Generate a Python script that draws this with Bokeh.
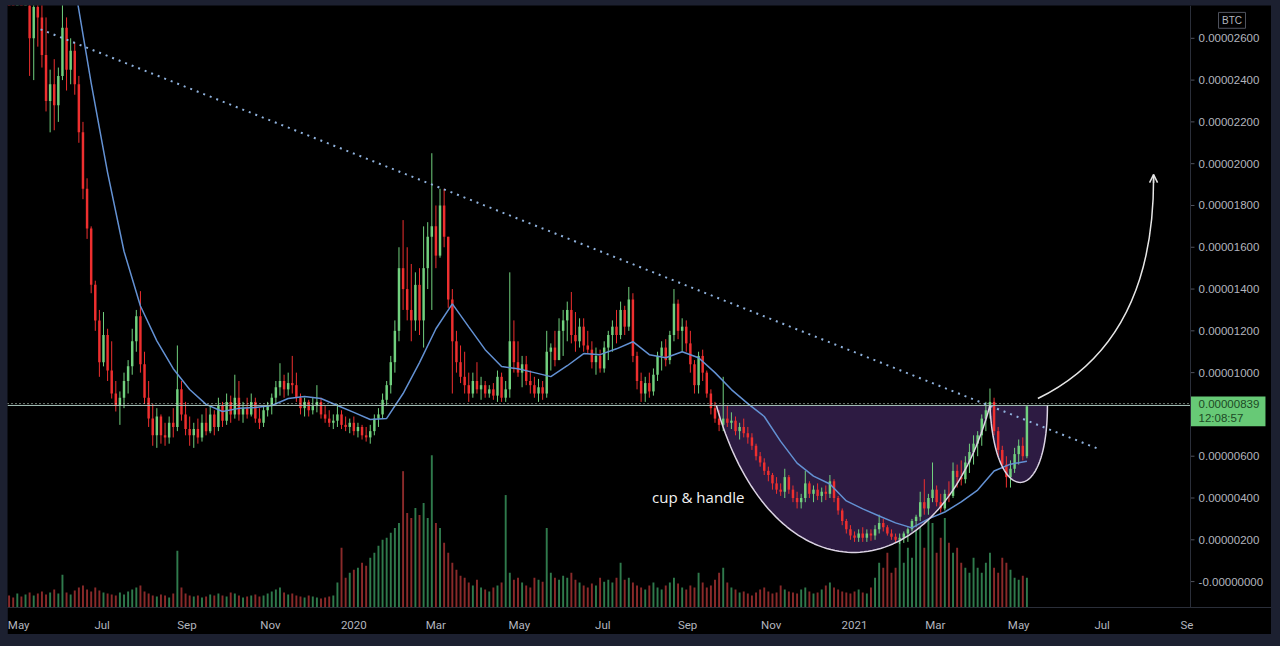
import numpy as np
import pandas as pd
from bokeh.plotting import figure
from bokeh.models import (ColumnDataSource, Range1d, FixedTicker, CustomJSTickFormatter,
                          Label, Arrow, OpenHead, Span, GlobalInlineStyleSheet)
from bokeh.embed import file_html
from bokeh.resources import INLINE

# candles every 3 days, prices in satoshi (1e-8 BTC)
start_date = "2019-04-24"
first_open = 3100
high_sats = [
    3200, 3150, 3250, 3150, 3150, 3050, 2900, 2950, 2850, 2700,
    2450, 2500, 2460, 2790, 2700, 2600, 2580, 2420, 2200, 1930,
    1700, 1440, 1300, 1290, 1210, 1150, 960, 910, 1000, 1060,
    1210, 1300, 1390, 1100, 960, 850, 830, 800, 760, 790,
    830, 1130, 960, 860, 790, 760, 780, 800, 830, 840,
    820, 880, 860, 900, 890, 990, 960, 860, 880, 900,
    880, 830, 840, 860, 900, 960, 1045, 990, 1000, 1080,
    1000, 900, 880, 870, 880, 940, 880, 840, 820, 800,
    850, 820, 790, 780, 790, 760, 750, 740, 750, 800,
    830, 900, 960, 1080, 1250, 1600, 1730, 1600, 1520, 1480,
    1500, 1700, 1720, 2050, 1800, 1880, 1880, 1650, 1400, 1200,
    1130, 1100, 1000, 1000, 1050, 980, 960, 940, 950, 1010,
    1000, 960, 1480, 1250, 1150, 1080, 1080, 1010, 980, 970,
    960, 1200, 1140, 1200, 1260, 1300, 1340, 1386, 1290, 1260,
    1260, 1200, 1150, 1120, 1110, 1150, 1200, 1250, 1300, 1340,
    1320, 1410, 1380, 1100, 1000, 980, 1000, 1020, 1100, 1150,
    1160, 1200, 1400, 1350, 1260, 1250, 1200, 1060, 1100, 1110,
    1010, 920, 860, 820, 980, 840, 810, 790, 760, 780,
    740, 710, 660, 620, 590, 550, 520, 500, 470, 540,
    510, 460, 430, 420, 530, 480, 460, 470, 450, 460,
    510, 490, 410, 350, 300, 270, 240, 250, 260, 250,
    250, 270, 320, 300, 270, 250, 230, 230, 240, 260,
    300, 320, 430, 490, 420, 570, 460, 420, 440, 480,
    570, 560, 580, 600, 660, 700, 720, 800, 860, 924,
    880, 740, 650, 600, 580, 640, 680, 690, 839,
]
low_sats = [
    2900, 2850, 2900, 2800, 2800, 2420, 2400, 2560, 2460, 2250,
    2150, 2160, 2200, 2400, 2350, 2380, 2330, 2100, 1830, 1640,
    1380, 1200, 980, 1030, 960, 876, 814, 750, 830, 900,
    990, 1100, 1000, 850, 740, 650, 640, 660, 650, 660,
    690, 720, 770, 700, 650, 640, 660, 670, 700, 710,
    700, 720, 740, 750, 760, 780, 770, 760, 780, 790,
    760, 730, 740, 790, 800, 850, 890, 880, 890, 900,
    860, 800, 790, 790, 800, 810, 780, 760, 740, 730,
    740, 730, 720, 710, 700, 690, 680, 670, 660, 700,
    740, 780, 840, 900, 1000, 1150, 1300, 1250, 1150, 1200,
    1180, 1120, 1400, 1300, 1500, 1550, 1600, 1310, 900, 1000,
    950, 900, 860, 880, 900, 870, 880, 880, 870, 860,
    860, 860, 880, 1000, 980, 930, 940, 900, 880, 860,
    870, 880, 1010, 1030, 1060, 1080, 1150, 1140, 1100, 1120,
    1100, 1090, 1020, 990, 1000, 1000, 1060, 1100, 1140, 1160,
    1180, 1200, 1050, 920, 860, 860, 880, 890, 960, 1010,
    1030, 1040, 1150, 1160, 1100, 1100, 1000, 900, 900, 960,
    880, 800, 760, 720, 720, 740, 730, 700, 680, 690,
    660, 630, 580, 550, 510, 480, 440, 420, 410, 400,
    420, 380, 350, 350, 380, 400, 380, 390, 380, 390,
    400, 380, 320, 270, 230, 200, 190, 190, 190, 190,
    195, 200, 230, 240, 220, 200, 185, 180, 185, 190,
    240, 260, 290, 320, 320, 380, 360, 330, 340, 380,
    400, 450, 460, 470, 520, 560, 600, 650, 720, 780,
    700, 600, 540, 450, 450, 520, 560, 580, 590,
]
close_sats = [
    3050, 2980, 3120, 2900, 3000, 2600, 2750, 2700, 2520, 2300,
    2380, 2280, 2420, 2650, 2450, 2540, 2380, 2150, 1880, 1690,
    1420, 1250, 1050, 1180, 1010, 900, 840, 880, 960, 1030,
    1150, 1270, 1040, 880, 780, 700, 790, 700, 690, 760,
    740, 920, 800, 730, 700, 730, 690, 760, 720, 800,
    740, 840, 770, 860, 800, 880, 800, 830, 800, 860,
    780, 760, 820, 840, 880, 930, 960, 920, 950, 940,
    880, 830, 860, 820, 840, 860, 800, 780, 760, 770,
    800, 750, 740, 760, 720, 740, 700, 690, 720, 780,
    800, 870, 940, 1050, 1200, 1500, 1400, 1300, 1250, 1420,
    1250, 1500, 1650, 1700, 1560, 1800, 1650, 1350, 1150, 1050,
    980, 940, 900, 960, 920, 940, 900, 920, 890, 980,
    880, 920, 1150, 1050, 1000, 1040, 960, 940, 900, 930,
    900, 1100, 1120, 1060, 1200, 1250, 1300, 1180, 1150, 1220,
    1130, 1110, 1050, 1080, 1020, 1120, 1180, 1220, 1180, 1300,
    1220, 1350, 1080, 960, 900, 950, 910, 990, 1080, 1120,
    1060, 1180, 1330, 1200, 1220, 1140, 1040, 940, 1080, 1000,
    900, 830, 780, 750, 780, 760, 770, 720, 740, 710,
    690, 650, 600, 570, 530, 510, 470, 440, 430, 500,
    440, 400, 380, 400, 470, 420, 440, 410, 430, 420,
    480, 400, 340, 290, 250, 220, 210, 230, 210, 230,
    220, 250, 280, 260, 230, 215, 200, 210, 230, 250,
    290, 310, 380, 350, 400, 440, 380, 350, 420, 410,
    530, 500, 490, 570, 620, 660, 700, 780, 820, 860,
    720, 630, 560, 500, 540, 610, 650, 600, 839,
]
volume = [
    12, 10, 14, 11, 13, 15, 12, 14, 16, 13, 15, 18, 14, 33,
    15, 13, 17, 20, 22, 18, 16, 20, 17, 15, 14, 13, 12, 15, 13, 16, 18,
    20, 22, 16, 14, 12, 11, 13, 12, 10, 14, 57, 20, 14, 12, 11, 12,
    10, 11, 13, 12, 14, 12, 11, 15, 14, 12, 10, 11, 12, 13,
    11, 12, 14, 16, 18, 20, 15, 13, 14, 12, 11, 10, 12, 11, 10, 9, 10, 11, 12,
    25, 60, 30, 35, 38, 40, 45, 42, 50, 55, 62, 68, 70, 75, 80, 85,
    137, 95, 90, 100, 93, 105, 90, 153, 85, 80, 65, 55, 45, 38, 32,
    30, 25, 22, 28, 20, 18, 16, 20, 22, 25, 113, 35, 28, 30, 25, 22, 20, 30, 28, 26,
    80, 35, 30, 28, 32, 30, 35, 28, 25, 22, 20, 24, 22, 30, 26, 28, 25, 30, 45, 28,
    30, 25, 22, 20, 18, 22, 25, 20, 18, 22, 25, 30, 24, 20, 18, 22, 20, 35, 25, 20,
    22, 28, 35, 40, 25, 20, 18, 15, 16, 14, 12, 15, 18, 20, 16, 14, 15, 22, 18, 16,
    15, 14, 18, 20, 16, 14, 15, 18, 22, 25, 20, 18, 16, 15, 14, 16, 18, 15, 14, 20,
    30, 45, 40, 55, 35, 40, 70, 45, 60, 50, 90, 135, 60, 150, 85, 55, 70, 90, 65, 55,
    60, 45, 40, 35, 50, 40, 35, 45, 55, 40, 35, 50, 45, 38, 30, 28, 32, 30,
]

# moving average, one reading every 12 days
ma_start = "2019-04-24"
ma_sats = [
    3376, 3329, 3257, 3138, 2852, 2386, 1957, 1581, 1319, 1152,
    1019, 919, 848, 814, 829, 833, 843, 876, 886, 876,
    843, 810, 776, 781, 900, 1048, 1210, 1329, 1219, 1110,
    1029, 1019, 1000, 981, 1033, 1091, 1086, 1114, 1148, 1086,
    1071, 1100, 1071, 1000, 919, 852, 790, 671, 567, 505,
    467, 386, 348, 314, 281, 257, 300, 333, 381, 438,
    529, 562, 576,
]

price_ticks = [0, 200, 400, 600, 1000, 1200, 1400, 1600, 1800, 2000, 2200, 2400, 2600]
tick_dates = ["2019-05-01", "2019-07-01", "2019-09-01", "2019-11-01", "2020-01-01",
              "2020-03-01", "2020-05-01", "2020-07-01", "2020-09-01", "2020-11-01",
              "2021-01-01", "2021-03-01", "2021-05-01", "2021-07-01", "2021-09-01"]
tick_labels = ["May", "Jul", "Sep", "Nov", "2020", "Mar", "May", "Jul", "Sep", "Nov",
               "2021", "Mar", "May", "Jul", "Se"]

# drawings
trend_dates = ["2019-05-17", "2021-06-29"]
trend_sats = [2643, 633]
rim_sats = 843
last_price = 839
last_time = "12:08:57"
cup_dates = ["2020-09-22", "2020-11-01", "2021-03-02", "2021-04-10"]
cup_sats = [843, -95, -95, 843]
handle_dates = ["2021-04-10", "2021-04-13", "2021-05-22", "2021-05-22"]
handle_sats = [843, 352, 352, 843]
arrow_dates = ["2021-05-15 00:00", "2021-08-08 17:00", "2021-08-07 14:00"]  # start, control, tip
arrow_sats = [876, 1150, 1948]

# price scale strip sits inside the frame, on its right
x_start = pd.Timestamp("2019-04-22 20:00")
scale_left = pd.Timestamp("2021-09-03 14:00")
x_stop = pd.Timestamp("2021-11-01 19:00")

BULL = "#71d07e"
BEAR = "#ee2f2f"
AXIS = "#b2b5be"
LINE = "#2a2e39"
DAY = 86400000


def to_ms(dates):
    return np.array([pd.Timestamp(d).value / 1e6 for d in dates])


def bezier(xs, ys, n=80):
    t = np.linspace(0, 1, n)
    bx = (1 - t) ** 3 * xs[0] + 3 * (1 - t) ** 2 * t * xs[1] + 3 * (1 - t) * t ** 2 * xs[2] + t ** 3 * xs[3]
    by = (1 - t) ** 3 * ys[0] + 3 * (1 - t) ** 2 * t * ys[1] + 3 * (1 - t) * t ** 2 * ys[2] + t ** 3 * ys[3]
    return bx, by


dates = pd.date_range(start_date, periods=len(close_sats), freq="3D")
opens = [first_open] + close_sats[:-1]
up = [c >= o for o, c in zip(opens, close_sats)]
src = ColumnDataSource(dict(
    date=dates,
    high=high_sats, low=low_sats,
    top=[max(o, c) for o, c in zip(opens, close_sats)],
    bottom=[min(o, c) for o, c in zip(opens, close_sats)],
    color=[BULL if u else BEAR for u in up],
    vol=volume,
    vcolor=["#2f7a4c" if u else "#8a2a2a" for u in up],
))

p = figure(width=1264, height=629, x_axis_type="datetime", y_axis_location=None,
           x_range=Range1d(x_start, x_stop), y_range=Range1d(-124, 2757),
           toolbar_location=None, tools="", output_backend="svg",
           background_fill_color="black", border_fill_color="black",
           min_border_left=0, min_border_top=0, min_border_right=0, min_border_bottom=24)
p.extra_y_ranges = {"vol": Range1d(0, 605)}
p.grid.visible = False
p.outline_line_color = None
p.stylesheets = [GlobalInlineStyleSheet(
    css="body { background: #1c2030 !important; padding: 5px 0 0 7px !important; }")]

# volume
p.vbar(x="date", width=1.4 * DAY, top="vol", bottom=0, y_range_name="vol",
       fill_color="vcolor", line_color=None, source=src)

# cup & handle fill
cx, cy = bezier(to_ms(cup_dates), cup_sats)
hx, hy = bezier(to_ms(handle_dates), handle_sats)
p.patch(cx, cy, fill_color="#2d1b42", line_color=None)
p.patch(hx, hy, fill_color="#2d1b42", line_color=None)

# candles
p.segment(x0="date", y0="low", x1="date", y1="high", line_color="color", line_width=1, source=src)
p.vbar(x="date", width=1.8 * DAY, top="top", bottom="bottom",
       fill_color="color", line_color=None, source=src)

# moving average
ma_dates = pd.date_range(ma_start, periods=len(ma_sats), freq="12D")
p.line(ma_dates, ma_sats, line_color="#6391d3", line_width=1.5)

# horizontal level and price line
p.segment(x0=[x_start], y0=[rim_sats], x1=[scale_left], y1=[rim_sats],
          line_color="#a9c5bd", line_width=1)
p.segment(x0=[x_start], y0=[rim_sats + 9], x1=[scale_left], y1=[rim_sats + 9],
          line_color="#d6e9dc", line_width=1, line_dash="1 3")

# falling trend line
p.line(to_ms(trend_dates), trend_sats, line_color="#8fb2dd", line_width=2, line_dash="2 5")

# cup & handle outline
p.line(cx, cy, line_color="#dcd4e4", line_width=1.5)
p.line(hx, hy, line_color="#dcd4e4", line_width=1.5)

# projection arrow
ax = to_ms(arrow_dates)
p.quadratic(x0=[ax[0]], y0=[arrow_sats[0]], cx=[ax[1]], cy=[arrow_sats[1]],
            x1=[ax[2]], y1=[arrow_sats[2]], line_color="#e6e6e6", line_width=1.5)
p.add_layout(Arrow(end=OpenHead(size=8, line_color="#e6e6e6", line_width=1.5),
                   x_start=ax[2], y_start=arrow_sats[2] - 40, x_end=ax[2], y_end=arrow_sats[2],
                   line_color="#e6e6e6", line_width=1.5))

p.add_layout(Label(x=to_ms(["2020-08-06"])[0], y=405, text="cup & handle",
                   text_color="#f2f2f2", text_font="Open Sans", text_font_size="15px",
                   text_baseline="middle"))

# price scale on the right
p.add_layout(Span(location=scale_left.value / 1e6, dimension="height", line_color=LINE, line_width=1))
label_x = scale_left + pd.Timedelta(days=5.9)
tick_text = ["-0.00000000" if v == 0 else f"{v * 1e-8:.8f}" for v in price_ticks]
p.segment(x0=[scale_left] * len(price_ticks), y0=price_ticks,
          x1=[scale_left + pd.Timedelta(days=2.9)] * len(price_ticks), y1=price_ticks,
          line_color="#50535e", line_width=1)
p.text(x=[label_x] * len(price_ticks), y=price_ticks, text=tick_text,
       text_color=AXIS, text_font_size="11.5px", text_baseline="middle", text_align="left")

# last price marker
p.quad(left=[scale_left], right=[scale_left + pd.Timedelta(days=54.8)],
       top=[last_price + 47], bottom=[last_price - 96], fill_color="#67c976", line_color=None)
p.text(x=[label_x, label_x], y=[last_price + 9, last_price - 58],
       text=[f"{last_price * 1e-8:.8f}", last_time],
       text_color="#1d4a25", text_font_size="11.5px", text_baseline="middle", text_align="left")

# currency badge
p.quad(left=[scale_left + pd.Timedelta(days=20.5)], right=[scale_left + pd.Timedelta(days=40.2)],
       top=[2724], bottom=[2648], fill_color=None, line_color="#50535e", line_width=1)
p.text(x=[scale_left + pd.Timedelta(days=30.4)], y=[2686], text=["BTC"],
       text_color=AXIS, text_font_size="10px", text_baseline="middle", text_align="center")

xax = p.xaxis[0]
tick_ms = [float(t) for t in to_ms(tick_dates)]
xax.ticker = FixedTicker(ticks=tick_ms)
xax.formatter = CustomJSTickFormatter(args=dict(tick_vals=tick_ms, tick_names=tick_labels),
                                      code="const i = tick_vals.indexOf(tick); return i >= 0 ? tick_names[i] : '';")
xax.major_label_text_color = AXIS
xax.major_label_text_font = "Roboto"
xax.major_label_text_font_size = "11.5px"
xax.axis_line_color = LINE
xax.major_tick_line_color = None
xax.minor_tick_line_color = None
xax.major_label_standoff = 4

open("out.html", "w").write(file_html(p, INLINE))
